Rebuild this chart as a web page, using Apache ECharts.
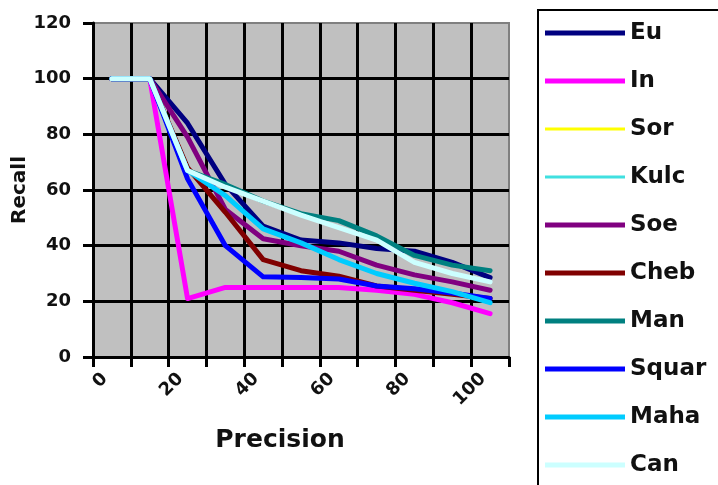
<!DOCTYPE html>
<html>
<head>
<meta charset="utf-8">
<script src="https://cdn.jsdelivr.net/npm/echarts@6/dist/echarts.min.js"></script>
<style>html,body{margin:0;padding:0;background:#fff;}#c{width:718px;height:485px;}</style>
</head>
<body>
<div id="c"></div>
<script>
const categories = ['0','10','20','30','40','50','60','70','80','90','100'];
const yTicks = [0, 20, 40, 60, 80, 100, 120];
const seriesNames = ['Eu','In','Sor','Kulc','Soe','Cheb','Man','Squar','Maha','Can'];
const eu    = [100,100,84,62,47,42,41,39,38,34,28.5];
const inn   = [100,100,21,25,25,25,25,24,22.5,19.5,15.6];
const sor   = [100,100,67,61,56,51,46.5,42,34,30,27];
const kulc  = [100,100,67,61,56,51,46.5,42,34,30,27];
const soe   = [100,100,79,53,42.5,40,38,33,29.5,27,24];
const cheb  = [100,100,68,52,35,31,29,25.5,24,22.5,21];
const man   = [100,100,67,62,56,51.5,49,43.5,36.5,33,31];
const squar = [100,100,64,40,28.8,28.6,28,25.5,24.5,23,21];
const maha  = [100,100,67,58,46,41,35,30,26.5,23.5,19.5];
const can   = [100,100,67,61,56,51,46.5,42,34,30,27];
const seriesData = [eu, inn, sor, kulc, soe, cheb, man, squar, maha, can];
const colors = ['#000080','#ff00ff','#ffff00','#40e0e0','#800080','#800000','#008080','#0000ff','#00ccff','#ccffff'];
const widths = [5,5,3,3,5,5,5,5,5,5];

const font = 'DejaVu Sans';
const thickIcon = 'path://M0,0H80V5H0Z';
const thinIcon = 'path://M0,1H80V4H0Z M0,0H0.01V0.01H0Z M0,4.99H0.01V5H0Z';

const chart = echarts.init(document.getElementById('c'));
chart.setOption({
  animation: false,
  grid: {left: 93, right: 209, top: 23, bottom: 128, show: true, outerBoundsMode: 'none',
         containLabel: false,
         backgroundColor: '#c0c0c0', borderColor: '#808080', borderWidth: 2},
  xAxis: {
    type: 'category', data: categories, boundaryGap: true,
    axisLine: {lineStyle: {color: '#000', width: 3}},
    axisTick: {show: true, interval: 0, length: 10, lineStyle: {color: '#000', width: 3}},
    splitLine: {show: true, interval: 0, showMaxLine: false, lineStyle: {color: '#000', width: 3}},
    axisLabel: {interval: 1, rotate: 45, margin: 12, padding: [0, 10, 0, 0], color: '#111',
                fontFamily: font, fontWeight: 'bold', fontSize: 18}
  },
  yAxis: {
    type: 'value', min: yTicks[0], max: yTicks[yTicks.length-1], interval: 20,
    name: 'Recall', nameLocation: 'middle', nameRotate: 90, nameGap: 63, nameMoveOverlap: false,
    nameTextStyle: {fontFamily: font, fontWeight: 'bold', fontSize: 20, color: '#111'},
    axisLine: {show: true, lineStyle: {color: '#000', width: 3}},
    axisTick: {show: true, length: 10, lineStyle: {color: '#000', width: 3}},
    splitLine: {show: true, showMaxLine: false, lineStyle: {color: '#000', width: 3}},
    axisLabel: {margin: 22, color: '#111', fontFamily: font, fontWeight: 'bold', fontSize: 18}
  },
  legend: {
    orient: 'vertical', left: 545, top: 20, padding: 0,
    itemWidth: 80, itemHeight: 5, itemGap: 22,
    textStyle: {fontFamily: font, fontWeight: 'bold', fontSize: 23, color: '#111', lineHeight: 26},
    data: seriesNames.map((n, i) => ({name: n, icon: widths[i] < 5 ? thinIcon : thickIcon}))
  },
  graphic: [{
    type: 'rect', shape: {x: 538, y: 10, width: 200, height: 500},
    style: {fill: 'none', stroke: '#000', lineWidth: 2}, z: 10
  }, {
    type: 'text', x: 280, y: 440,
    style: {text: 'Precision', font: 'bold 25px "DejaVu Sans"', fill: '#111',
            textAlign: 'center', textVerticalAlign: 'middle'}
  }],
  series: seriesNames.map((n, i) => ({
    name: n, type: 'line', data: seriesData[i], symbol: 'none',
    itemStyle: {color: colors[i]},
    lineStyle: {color: colors[i], width: widths[i], cap: 'round', join: 'round'}
  }))
});
</script>
</body>
</html>
